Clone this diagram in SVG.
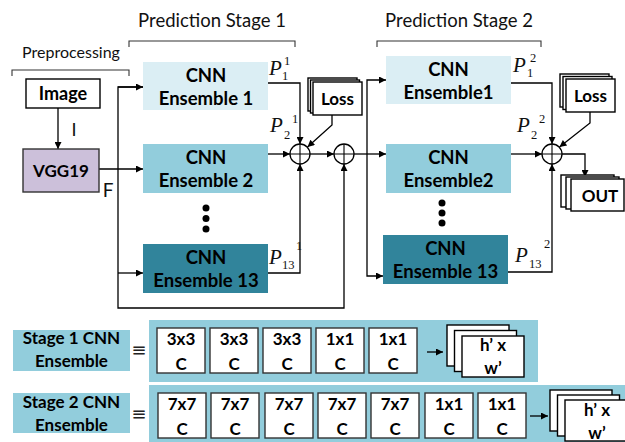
<svg xmlns="http://www.w3.org/2000/svg" width="625" height="442" viewBox="0 0 625 442">
  <defs>
    <marker id="arrow" viewBox="0 0 10 10" refX="10" refY="5" markerWidth="9" markerHeight="7" markerUnits="userSpaceOnUse" orient="auto">
      <path d="M0,0 L10,5 L0,10 z" fill="#000"/>
    </marker>
    <style>
      .wire { fill: none; stroke: #000; stroke-width: 1.3; }
      .arr { marker-end: url(#arrow); }
      .bracket { fill: none; stroke: #333; stroke-width: 1.1; }
      .box { fill: #fff; stroke: #000; stroke-width: 1.4; }
      .lbl { font-family: Lato, "Liberation Sans", sans-serif; font-weight: bold; fill: #000; text-anchor: middle; }
      .title { font-family: Lato, "Liberation Sans", sans-serif; fill: #111; text-anchor: middle; }
      .equiv { font-family: "DejaVu Sans", sans-serif; fill: #222; text-anchor: middle; }
      .math { font-family: "Liberation Serif", serif; fill: #111; }
      .e1 { fill: #dbeef4; }
      .e2 { fill: #92cddc; }
      .e13 { fill: #31849b; }
      .sum circle { fill: #fff; stroke: #000; stroke-width: 1.3; }
      .sum path { stroke: #000; stroke-width: 1.1; fill: none; }
      .cell { fill: #fff; stroke: #333; stroke-width: 1.4; }
      .panel { fill: #92cddc; }
    </style>
  </defs>

  <rect width="625" height="442" fill="#fff"/>

  <!-- stage titles and brackets -->
  <text class="title" x="212" y="27" font-size="18.5">Prediction Stage 1</text>
  <text class="title" x="459" y="27" font-size="18.5">Prediction Stage 2</text>
  <text class="title" x="71" y="58" font-size="16">Preprocessing</text>
  <path class="bracket" d="M12,76 V70 H129 V76"/>
  <path class="bracket" d="M129,47 V41 H295 V47"/>
  <path class="bracket" d="M377,47 V41 H541 V47"/>

  <!-- connectors -->
  <g id="connectors">
    <path class="wire arr" d="M58,108 V149"/>
    <path class="wire arr" d="M99,169 H143"/>
    <path class="wire arr" d="M143,87 H118 V308 H344 V164"/>
    <path class="wire arr" d="M118,87 H143"/>
    <path class="wire arr" d="M118,273 H143"/>
    <path class="wire arr" d="M268,83 H300 V144"/>
    <path class="wire arr" d="M268,154 H290"/>
    <path class="wire arr" d="M268,273 H300 V164"/>
    <path class="wire arr" d="M332,115 V125 L307.5,147"/>
    <path class="wire arr" d="M310,154 H334"/>
    <path class="wire arr" d="M354,154 H386"/>
    <path class="wire arr" d="M367,154 V80 H386"/>
    <path class="wire arr" d="M367,154 V276 H383"/>
    <path class="wire arr" d="M511,83 H552 V144"/>
    <path class="wire arr" d="M511,154 H542"/>
    <path class="wire arr" d="M508,272 H552 V164"/>
    <path class="wire arr" d="M590,112 V123 L559.5,147"/>
    <path class="wire arr" d="M562,154 H585 V177"/>
  </g>

  <!-- input image -->
  <g id="image">
    <rect class="box" x="26" y="79" width="74" height="29"/>
    <text class="lbl" x="63" y="100" font-size="18">Image</text>
  </g>
  <text class="title" x="74" y="136" font-size="18">I</text>

  <g id="vgg19">
    <rect x="23" y="149" width="76" height="43" fill="#ccc0da" stroke="#333" stroke-width="1.4"/>
    <text class="lbl" x="61" y="177" font-size="17">VGG19</text>
  </g>
  <text class="title" x="108" y="197" font-size="19">F</text>

  <!-- stage 1 ensembles -->
  <g id="s1-ens1">
    <rect class="e1" x="143" y="62" width="125" height="48"/>
    <text class="lbl" x="206" y="82" font-size="18.5">CNN</text>
    <text class="lbl" x="206" y="105" font-size="18.5">Ensemble 1</text>
  </g>
  <g id="s1-ens2">
    <rect class="e2" x="143" y="144" width="125" height="49"/>
    <text class="lbl" x="206" y="164" font-size="18.5">CNN</text>
    <text class="lbl" x="206" y="187" font-size="18.5">Ensemble 2</text>
  </g>
  <g id="s1-dots" fill="#000">
    <circle cx="206" cy="208" r="3.5"/>
    <circle cx="206" cy="218.5" r="3.5"/>
    <circle cx="206" cy="229" r="3.5"/>
  </g>
  <g id="s1-ens13">
    <rect class="e13" x="143" y="244" width="125" height="49"/>
    <text class="lbl" x="206" y="264" font-size="18.5">CNN</text>
    <text class="lbl" x="206" y="287" font-size="18.5">Ensemble 13</text>
  </g>

  <!-- stage 1 outputs -->
  <text class="math" x="269" y="75" font-size="21" font-style="italic">P</text>
  <text class="math" x="282" y="80" font-size="12.5">1</text>
  <text class="math" x="284" y="65" font-size="12.5">1</text>
  <text class="math" x="270" y="132" font-size="21" font-style="italic">P</text>
  <text class="math" x="284" y="139" font-size="12.5">2</text>
  <text class="math" x="292" y="123" font-size="12.5">1</text>
  <text class="math" x="269" y="264" font-size="21" font-style="italic">P</text>
  <text class="math" x="282" y="269" font-size="12.5">13</text>
  <text class="math" x="296" y="250" font-size="12.5">1</text>

  <g id="loss1">
    <rect class="box" x="308" y="78" width="49" height="33" stroke-width="1"/>
    <rect class="box" x="310.5" y="80" width="49" height="33" stroke-width="1"/>
    <rect class="box" x="313" y="82" width="49" height="33"/>
    <text class="lbl" x="337.5" y="105" font-size="17">Loss</text>
  </g>

  <g id="sum1" class="sum">
    <circle cx="300" cy="154" r="10"/>
    <path d="M290,154 H310 M300,144 V164"/>
  </g>
  <g id="sum2" class="sum">
    <circle cx="344" cy="154" r="10"/>
    <path d="M334,154 H354 M344,144 V164"/>
  </g>

  <!-- stage 2 ensembles -->
  <g id="s2-ens1">
    <rect class="e1" x="386" y="56" width="125" height="48"/>
    <text class="lbl" x="448.5" y="76" font-size="18.5">CNN</text>
    <text class="lbl" x="448.5" y="99" font-size="18.5">Ensemble1</text>
  </g>
  <g id="s2-ens2">
    <rect class="e2" x="386" y="144" width="125" height="49"/>
    <text class="lbl" x="448.5" y="164" font-size="18.5">CNN</text>
    <text class="lbl" x="448.5" y="187" font-size="18.5">Ensemble2</text>
  </g>
  <g id="s2-dots" fill="#000">
    <circle cx="442" cy="203" r="3.5"/>
    <circle cx="442" cy="213" r="3.5"/>
    <circle cx="442" cy="223" r="3.5"/>
  </g>
  <g id="s2-ens13">
    <rect class="e13" x="383" y="235" width="125" height="49"/>
    <text class="lbl" x="445.5" y="255" font-size="18.5">CNN</text>
    <text class="lbl" x="445.5" y="278" font-size="18.5">Ensemble 13</text>
  </g>

  <!-- stage 2 outputs -->
  <text class="math" x="513" y="72" font-size="21" font-style="italic">P</text>
  <text class="math" x="527" y="77" font-size="12.5">1</text>
  <text class="math" x="530" y="62" font-size="12.5">2</text>
  <text class="math" x="517" y="132" font-size="21" font-style="italic">P</text>
  <text class="math" x="531" y="139" font-size="12.5">2</text>
  <text class="math" x="539" y="123" font-size="12.5">2</text>
  <text class="math" x="515" y="262" font-size="21" font-style="italic">P</text>
  <text class="math" x="529" y="268" font-size="12.5">13</text>
  <text class="math" x="544" y="248" font-size="12.5">2</text>

  <g id="loss2">
    <rect class="box" x="560" y="74" width="49" height="33" stroke-width="1"/>
    <rect class="box" x="563" y="76.5" width="49" height="33" stroke-width="1"/>
    <rect class="box" x="566" y="79" width="49" height="33"/>
    <text class="lbl" x="590.5" y="102" font-size="17">Loss</text>
  </g>

  <g id="sum3" class="sum">
    <circle cx="552" cy="154" r="10"/>
    <path d="M542,154 H562 M552,144 V164"/>
  </g>

  <g id="out">
    <rect class="box" x="561" y="175" width="53" height="32" stroke-width="1"/>
    <rect class="box" x="566" y="177" width="53" height="32" stroke-width="1"/>
    <rect class="box" x="571" y="179" width="53" height="32"/>
    <text class="lbl" x="600" y="202" font-size="17">OUT</text>
  </g>

  <!-- ensemble definitions -->
  <g id="stage1-def">
    <rect class="panel" x="13" y="330" width="117" height="41"/>
    <text class="lbl" x="71.5" y="344" font-size="17">Stage 1 CNN</text>
    <text class="lbl" x="71.5" y="367" font-size="17">Ensemble</text>
    <text class="equiv" x="139" y="355.5" font-size="18">≡</text>
    <rect class="panel" x="149" y="320" width="389" height="62"/>
    <rect class="cell" x="157" y="328" width="48" height="45"/>
    <rect class="cell" x="210" y="328" width="48" height="45"/>
    <rect class="cell" x="263" y="328" width="48" height="45"/>
    <rect class="cell" x="316" y="328" width="48" height="45"/>
    <rect class="cell" x="369" y="328" width="48" height="45"/>
    <g class="lbl" font-size="17">
      <text x="181" y="345">3x3</text><text x="181" y="370">C</text>
      <text x="234" y="345">3x3</text><text x="234" y="370">C</text>
      <text x="287" y="345">3x3</text><text x="287" y="370">C</text>
      <text x="340" y="345">1x1</text><text x="340" y="370">C</text>
      <text x="393" y="345">1x1</text><text x="393" y="370">C</text>
    </g>
    <path class="wire arr" d="M427,352 H443"/>
    <rect class="box" x="447" y="325" width="62" height="41"/>
    <rect class="box" x="454.5" y="330.5" width="62" height="41"/>
    <rect class="box" x="462" y="336" width="62" height="41"/>
    <text class="lbl" x="493" y="351" font-size="17">h’ x</text>
    <text class="lbl" x="493" y="374" font-size="17">w’</text>
  </g>

  <g id="stage2-def">
    <rect class="panel" x="13" y="393" width="117" height="40"/>
    <text class="lbl" x="71.5" y="408" font-size="17">Stage 2 CNN</text>
    <text class="lbl" x="71.5" y="431" font-size="17">Ensemble</text>
    <text class="equiv" x="139" y="420" font-size="18">≡</text>
    <rect class="panel" x="149" y="385" width="476" height="57"/>
    <rect class="cell" x="158" y="393" width="48" height="45"/>
    <rect class="cell" x="211" y="393" width="48" height="45"/>
    <rect class="cell" x="265" y="393" width="48" height="45"/>
    <rect class="cell" x="318" y="393" width="48" height="45"/>
    <rect class="cell" x="371" y="393" width="48" height="45"/>
    <rect class="cell" x="425" y="393" width="48" height="45"/>
    <rect class="cell" x="478" y="393" width="48" height="45"/>
    <g class="lbl" font-size="17">
      <text x="182" y="410">7x7</text><text x="182" y="435">C</text>
      <text x="235" y="410">7x7</text><text x="235" y="435">C</text>
      <text x="289" y="410">7x7</text><text x="289" y="435">C</text>
      <text x="342" y="410">7x7</text><text x="342" y="435">C</text>
      <text x="395" y="410">7x7</text><text x="395" y="435">C</text>
      <text x="449" y="410">1x1</text><text x="449" y="435">C</text>
      <text x="502" y="410">1x1</text><text x="502" y="435">C</text>
    </g>
    <path class="wire arr" d="M530,416 H548"/>
    <rect class="box" x="550" y="390" width="62" height="41"/>
    <rect class="box" x="557.5" y="395" width="62" height="41"/>
    <rect class="box" x="565" y="400" width="62" height="41"/>
    <text class="lbl" x="597" y="416" font-size="17">h’ x</text>
    <text class="lbl" x="597" y="439" font-size="17">w’</text>
  </g>
</svg>
